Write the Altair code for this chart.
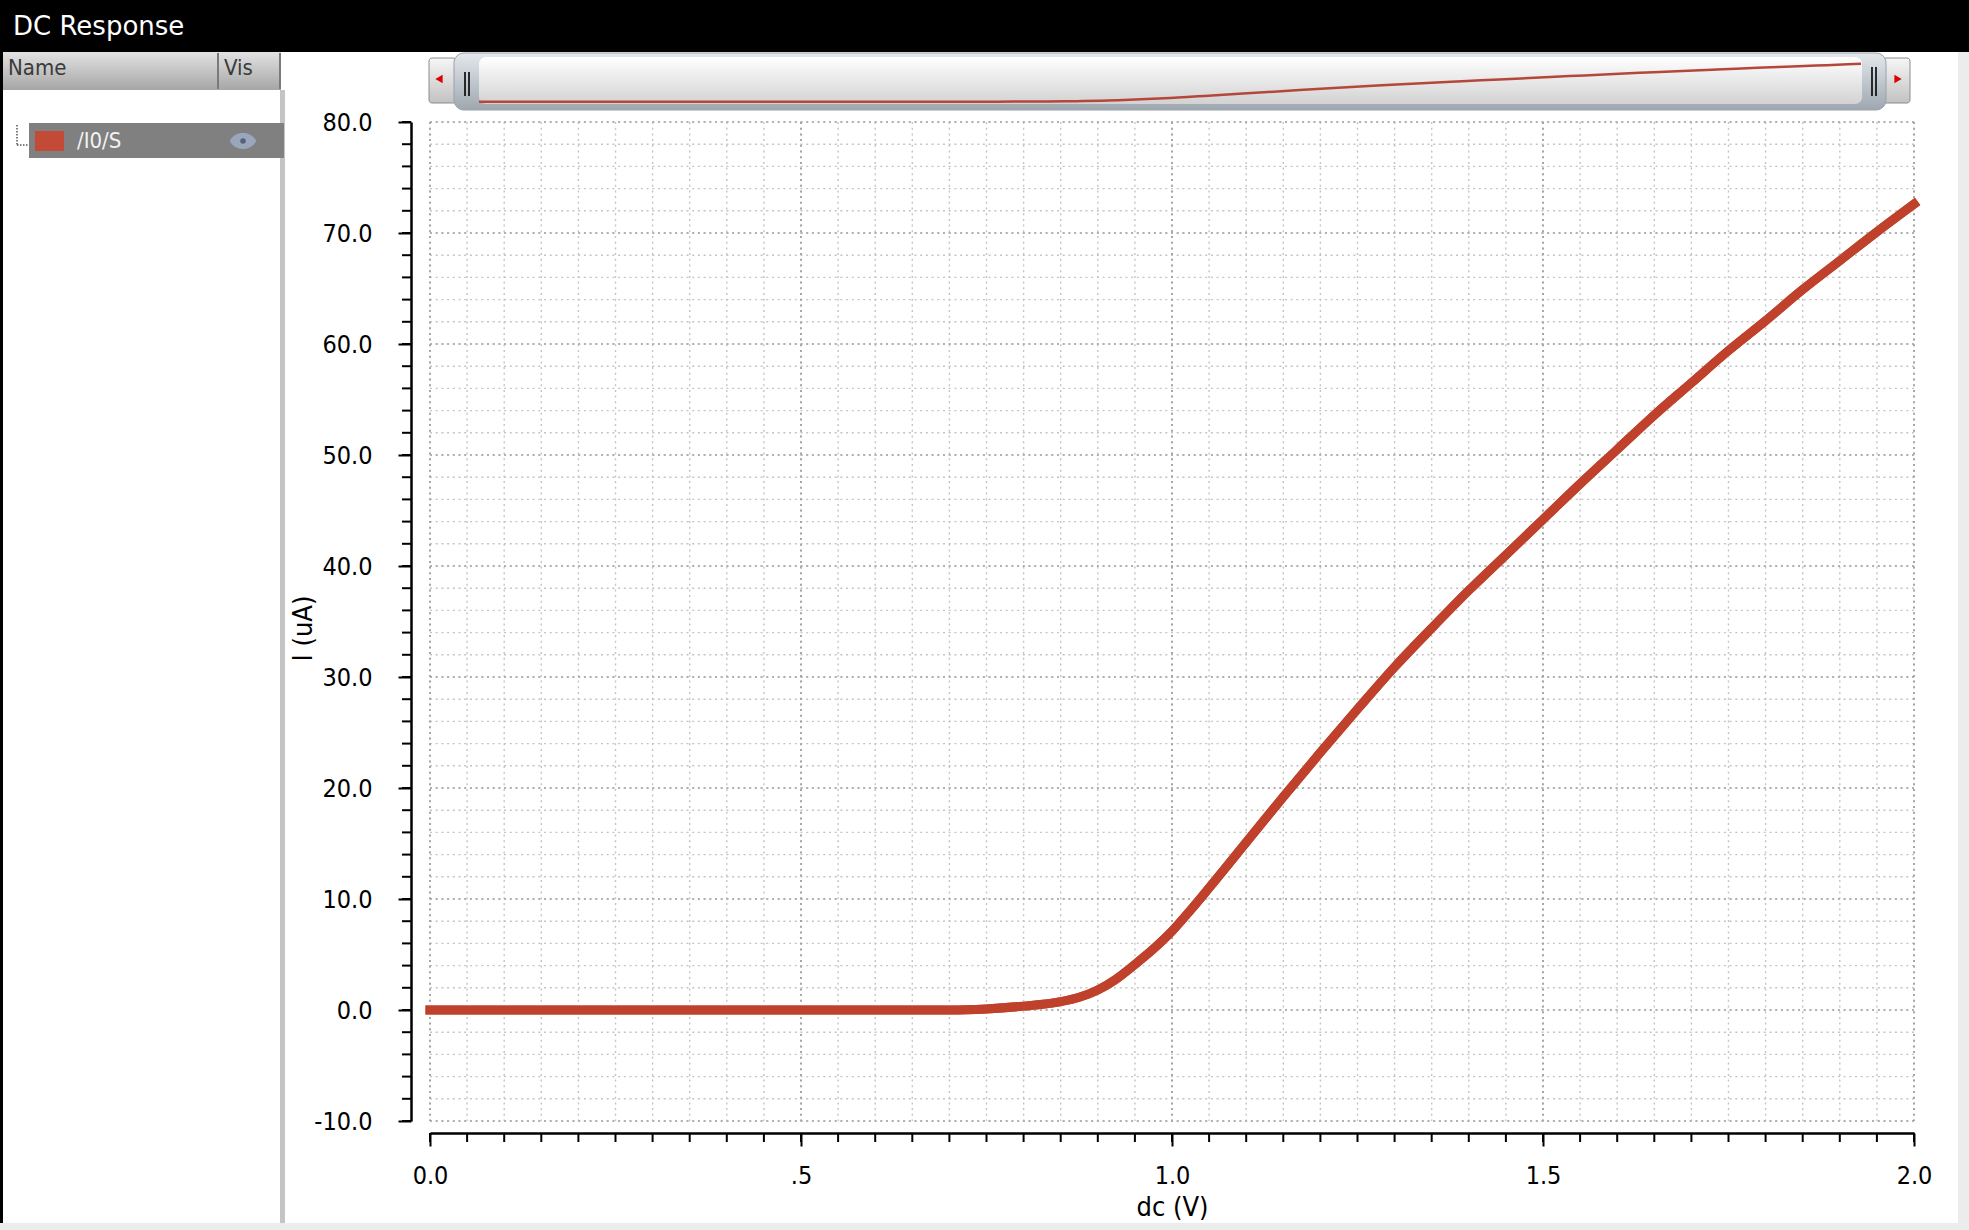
import altair as alt
import pandas as pd

# ---------------- chart data ----------------
window_title = "DC Response"
series_name = "/I0/S"
x_title = "dc (V)"
y_title = "I (uA)"
header_name = "Name"
header_vis = "Vis"

dc_v = [0.0, 0.1, 0.2, 0.3, 0.4, 0.5, 0.6, 0.7, 0.75, 0.8, 0.85, 0.875, 0.9, 0.925,
        0.95, 0.975, 1.0, 1.025, 1.05, 1.1, 1.15, 1.2, 1.25, 1.3, 1.35, 1.4, 1.45,
        1.5, 1.55, 1.6, 1.65, 1.7, 1.75, 1.8, 1.85, 1.9, 1.95, 2.0]
i_ua = [0.0, 0.0, 0.0, 0.0, 0.0, 0.0, 0.0, 0.0, 0.1, 0.35, 0.75, 1.15, 1.8, 2.8,
        4.1, 5.5, 7.1, 9.0, 11.0, 15.1, 19.2, 23.2, 27.1, 30.9, 34.4, 37.8, 41.0,
        44.2, 47.4, 50.5, 53.6, 56.5, 59.4, 62.1, 64.9, 67.5, 70.1, 72.6]

x_major = [0.0, 0.5, 1.0, 1.5, 2.0]
y_major = [-10, 0, 10, 20, 30, 40, 50, 60, 70, 80]
x_minor = [round(0.05 * k, 2) for k in range(41)]
y_minor = list(range(-10, 81, 2))

df = pd.DataFrame({"V": dc_v, "I": i_ua})
gx_minor = pd.DataFrame({"V": x_minor})
gx_major = pd.DataFrame({"V": x_major})
gy_minor = pd.DataFrame({"I": y_minor})
gy_major = pd.DataFrame({"I": y_major})
one = pd.DataFrame({"k": [1]})

# ---------------- layout ----------------
FULL_W, FULL_H = 1969, 1230
LEFT, TOP = 430, 122
W, H = 1484, 999
RED = "#c0412b"
FONT_N = "DejaVu Sans Condensed, Liberation Sans Narrow, DejaVu Sans"
FONT_T = "DejaVu Sans"

xs = alt.Scale(domain=[0, 2], nice=False, zero=False)
ys = alt.Scale(domain=[-10, 80], nice=False, zero=False)

x_axis = alt.Axis(values=x_major, offset=12, tickSize=13, tickWidth=2,
                  tickColor="black", domainColor="black", domainWidth=2.5,
                  labelFont=FONT_N, labelFontSize=25, labelColor="black",
                  labelPadding=17, grid=False, labelFlush=False,
                  labelExpr="abs(datum.value - 0.5) < 1e-6 ? '.5' : format(datum.value, '.1f')",
                  titleFont=FONT_N, titleFontSize=27, titleFontWeight="normal",
                  titleColor="black", titlePadding=6)
y_axis = alt.Axis(values=y_major, offset=19, tickSize=13, tickWidth=2,
                  tickColor="black", domainColor="black", domainWidth=2.5,
                  labelFont=FONT_N, labelFontSize=25, labelColor="black",
                  labelPadding=26, grid=False, labelFlush=False,
                  labelExpr="replace(format(datum.value, '.1f'), '\u2212', '-')",
                  titleFont=FONT_N, titleFontSize=27, titleFontWeight="normal",
                  titleColor="black", titleX=-100, titleY=506,
                  titleBaseline="alphabetic", titleAlign="center", titleAngle=270)

X = alt.X("V:Q", scale=xs, axis=x_axis, title=x_title)
Y = alt.Y("I:Q", scale=ys, axis=y_axis, title=y_title)


def grad(c1, c2):
    return alt.LinearGradient(
        gradient="linear",
        stops=[alt.GradientStop(color=c1, offset=0), alt.GradientStop(color=c2, offset=1)],
        x1=0, x2=0, y1=0, y2=1)


def box(x1, y1, x2, y2, fill, **kw):
    return alt.Chart(one).mark_rect(fill=fill, **kw).encode(
        x=alt.value(x1 - LEFT), x2=alt.value(x2 - LEFT),
        y=alt.value(y1 - TOP), y2=alt.value(y2 - TOP))


def seg(x1, y1, x2, y2, color, width=1.0, dash=None):
    kw = dict(color=color, strokeWidth=width)
    if dash:
        kw["strokeDash"] = dash
    return alt.Chart(one).mark_rule(**kw).encode(
        x=alt.value(x1 - LEFT), x2=alt.value(x2 - LEFT),
        y=alt.value(y1 - TOP), y2=alt.value(y2 - TOP))


def label(x, y, txt, size, color, font=FONT_N, align="left"):
    return alt.Chart(one).mark_text(text=txt, fontSize=size, color=color, font=font,
                                    align=align, baseline="middle").encode(
        x=alt.value(x - LEFT), y=alt.value(y - TOP))


def symbol(x, y, shape, size, color):
    return alt.Chart(one).mark_point(shape=shape, size=size, filled=True, color=color,
                                     opacity=1).encode(
        x=alt.value(x - LEFT), y=alt.value(y - TOP))


chrome = [
    box(0, 0, FULL_W, 52, "black"),
    label(13, 27, window_title, 26, "white", font=FONT_T),
    box(0, 52, 3, FULL_H, "black"),
    box(1958, 52, FULL_W, FULL_H, "#ececec"),
    box(0, 1223, FULL_W, FULL_H, "#ececec"),
    box(3, 52, 281, 90, grad("#e2e2e2", "#a6a6a6")),
    seg(218, 53, 218, 89, "#7a7a7a", 2),
    seg(280, 53, 280, 89, "#7a7a7a", 2),
    box(280, 90, 285, 1223, "#c4c4c4"),
    label(8, 68, header_name, 22, "#3a3a3a"),
    label(224, 68, header_vis, 22, "#3a3a3a"),
    seg(17, 125, 17, 145, "#555555", 1.5, [1.5, 1.5]),
    seg(17, 145, 29, 145, "#555555", 1.5, [1.5, 1.5]),
    box(29, 123, 284, 158, "#808080"),
    box(35, 131, 64, 151, "#c24a36"),
    label(77, 141, series_name, 22, "#f2f2f2"),
    symbol(243, 141, "M-1,0C-0.6,-0.8,0.6,-0.8,1,0C0.6,0.8,-0.6,0.8,-1,0Z", 700, "#9aa6bc"),
    symbol(243, 141, "circle", 30, "#56607a"),
    box(429, 58, 456, 103, grad("#f6f6f6", "#c2c2c2"), stroke="#8c8c8c", strokeWidth=1, cornerRadius=3),
    box(1883, 58, 1910, 103, grad("#f6f6f6", "#c2c2c2"), stroke="#8c8c8c", strokeWidth=1, cornerRadius=3),
    box(454, 53, 1886, 110, grad("#e4e8ec", "#9ea7b0"), stroke="#98a1aa", strokeWidth=1, cornerRadius=10),
    box(479, 57, 1862, 104, grad("#ffffff", "#d2d2d2"), cornerRadius=7),
    seg(465, 72, 465, 96, "black", 1.6),
    seg(469, 72, 469, 96, "black", 1.6),
    seg(1872, 67, 1872, 96, "black", 1.6),
    seg(1876, 67, 1876, 96, "black", 1.6),
    symbol(439, 79, "triangle-left", 70, "#e00000"),
    symbol(1898, 79, "triangle-right", 70, "#e00000"),
]

# ---------------- plot ----------------
grid_kw = dict(strokeDash=[2, 3.7])
gxm = alt.Chart(gx_minor).mark_rule(color="#c4c4c4", strokeWidth=1.4, **grid_kw).encode(
    x=X, y=alt.value(0), y2=alt.value(H))
gym = alt.Chart(gy_minor).mark_rule(color="#c4c4c4", strokeWidth=1.4, **grid_kw).encode(
    y=Y, x=alt.value(0), x2=alt.value(W))
gxM = alt.Chart(gx_major).mark_rule(color="#9c9c9c", strokeWidth=1.6, **grid_kw).encode(
    x=X, y=alt.value(0), y2=alt.value(H))
gyM = alt.Chart(gy_major).mark_rule(color="#a6a6a6", strokeWidth=1.6, **grid_kw).encode(
    y=Y, x=alt.value(0), x2=alt.value(W))

tx = alt.Chart(gx_minor).mark_rule(color="black", strokeWidth=2).encode(
    x=X, y=alt.value(H + 12), y2=alt.value(H + 21))
ty = alt.Chart(gy_minor).mark_rule(color="black", strokeWidth=2).encode(
    y=Y, x=alt.value(-28), x2=alt.value(-19))

line = alt.Chart(df).mark_line(color=RED, strokeWidth=9, interpolate="monotone",
                               strokeCap="square", strokeJoin="round").encode(x=X, y=Y)

main = alt.layer(line, gxm, gym, gxM, gyM, tx, ty, line)

mini = alt.Chart(df).mark_line(color="#b5473a", strokeWidth=2.5, interpolate="monotone").encode(
    x=alt.X("V:Q", scale=alt.Scale(domain=[0, 2], range=[49, 1431], nice=False, zero=False), axis=None),
    y=alt.Y("I:Q", scale=alt.Scale(domain=[0, 80], range=[-20.3, -62], nice=False, zero=False), axis=None),
)

chart = alt.layer(*chrome, main, mini).resolve_scale(
    x="independent", y="independent"
).properties(
    width=W, height=H,
    autosize=alt.AutoSizeParams(type="none"),
    padding={"left": LEFT, "top": TOP, "right": FULL_W - LEFT - W, "bottom": FULL_H - TOP - H},
    background="white",
).configure_view(strokeWidth=0)

chart.save("out.html", embed_options={"renderer": "svg", "actions": False})
